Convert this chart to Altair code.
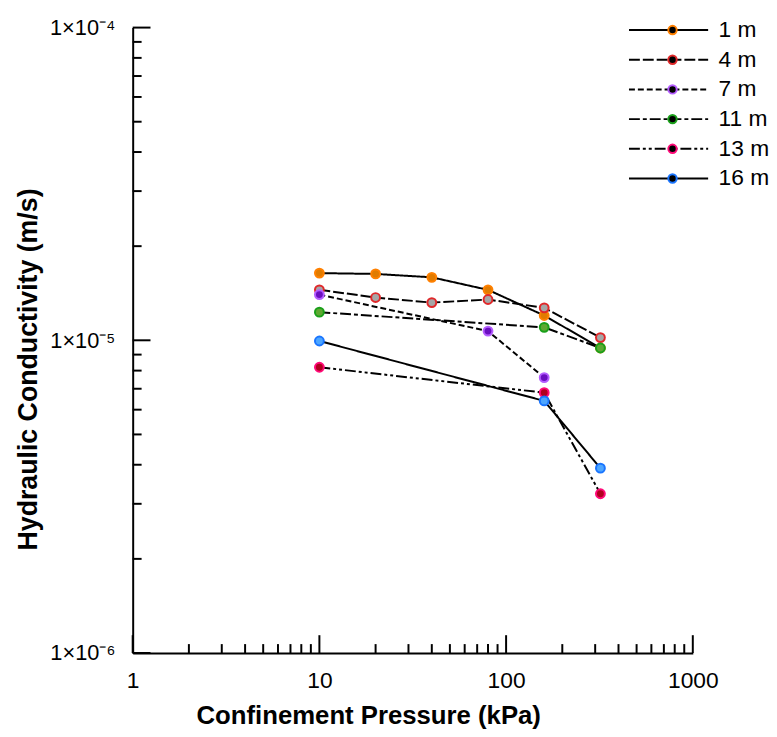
import altair as alt
import pandas as pd

# ---- data ----
series_names = ["1 m", "4 m", "7 m", "11 m", "13 m", "16 m"]

p_1m = [10, 20, 40, 80, 160, 320]
k_1m = [1.64e-5, 1.63e-5, 1.59e-5, 1.45e-5, 1.20e-5, 9.45e-6]

p_4m = [10, 20, 40, 80, 160, 320]
k_4m = [1.45e-5, 1.37e-5, 1.32e-5, 1.35e-5, 1.27e-5, 1.02e-5]

p_7m = [10, 80, 160]
k_7m = [1.40e-5, 1.07e-5, 7.6e-6]

p_11m = [10, 160, 320]
k_11m = [1.23e-5, 1.10e-5, 9.45e-6]

p_13m = [10, 160, 320]
k_13m = [8.2e-6, 6.8e-6, 3.23e-6]

p_16m = [10, 160, 320]
k_16m = [9.95e-6, 6.4e-6, 3.9e-6]

x_major = [1, 10, 100, 1000]
y_major = [1e-6, 1e-5, 1e-4]
x_minor = [m * d for d in (1, 10, 100) for m in range(2, 10)]
y_minor = [m * d for d in (1e-6, 1e-5) for m in range(2, 10)]

# ---- styles ----
dash_range = [[1, 0], [11, 3], [6, 3], [11, 3, 4, 3], [11, 3, 3, 3, 3, 3], [1, 0]]
stroke_cols = ["#ff8000", "#e0282a", "#b45cff", "#1aa01a", "#ff0a78", "#1a75ff"]
fill_cols = ["#e07b00", "#a6a6a6", "#6b0fc0", "#5fa832", "#b0001e", "#4da6ff"]

rows = []
for name, ps, ks in zip(series_names,
                        [p_1m, p_4m, p_7m, p_11m, p_13m, p_16m],
                        [k_1m, k_4m, k_7m, k_11m, k_13m, k_16m]):
    for p, k in zip(ps, ks):
        rows.append({"series": name, "series_pt": name, "p": p, "k": k})
df = pd.DataFrame(rows)

W, H = 566, 632
FONT = "Liberation Sans"
MINOR, MAJOR = 9, 18

xscale = alt.Scale(type="log", domain=[1, 1000], nice=False)
yscale = alt.Scale(type="log", domain=[1e-6, 1e-4], nice=False)

y_label_expr = ("datum.value < 5e-6 ? '1×10⁻⁶' : "
                "(datum.value < 5e-5 ? '1×10⁻⁵' : '1×10⁻⁴')")

base = alt.Chart(df)

lines = base.mark_line(color="black", strokeWidth=2).encode(
    x=alt.X("p:Q", scale=xscale, axis=alt.Axis(
        orient="bottom", values=x_major, format="d", ticks=False, grid=False,
        domain=True, domainColor="black", domainWidth=2, labelFlush=False,
        labelFont=FONT, labelFontSize=23, labelColor="black", labelPadding=17,
        title="Confinement Pressure (kPa)", titleFont=FONT, titleFontSize=26,
        titleFontWeight="bold", titleColor="black", titleX=238, titleY=71,
        titleAlign="center", titleBaseline="alphabetic")),
    y=alt.Y("k:Q", scale=yscale, axis=alt.Axis(
        orient="left", values=y_major, labelExpr=y_label_expr, ticks=False,
        grid=False, domain=True, domainColor="black", domainWidth=2,
        labelFont=FONT, labelFontSize=22, labelColor="black", labelPadding=18,
        title="Hydraulic Conductivity (m/s)", titleFont=FONT, titleFontSize=27,
        titleFontWeight="bold", titleColor="black", titleX=-97, titleY=345,
        titleAlign="center", titleBaseline="alphabetic")),
    strokeDash=alt.StrokeDash("series:N", scale=alt.Scale(domain=series_names, range=dash_range),
        legend=alt.Legend(orient="none", legendX=500, legendY=-9, title=None,
                          symbolType="M-1,0H7", symbolSize=400, symbolStrokeWidth=2,
                          symbolStrokeColor="black", labelFont=FONT, labelFontSize=23,
                          labelColor="black", labelOffset=69, rowPadding=6, padding=0)),
    order=alt.Order("p:Q"),
)

pt_legend = alt.Legend(orient="none", legendX=534, legendY=-9, title=None,
                       symbolType="circle", symbolSize=72, symbolStrokeWidth=2,
                       labelFont=FONT, labelFontSize=23, labelOpacity=0,
                       rowPadding=6, padding=0)

points = base.mark_point(filled=True, size=80, strokeWidth=2, opacity=1, shape="circle").encode(
    x=alt.X("p:Q", scale=xscale, axis=None),
    y=alt.Y("k:Q", scale=yscale, axis=None),
    stroke=alt.Stroke("series_pt:N", sort=series_names,
                      scale=alt.Scale(range=stroke_cols), legend=pt_legend),
    fill=alt.Fill("series_pt:N", sort=series_names,
                  scale=alt.Scale(range=fill_cols), legend=pt_legend),
)

def x_ticks(vals, size):
    return alt.Chart(pd.DataFrame({"v": vals})).mark_rule(color="black", strokeWidth=2).encode(
        x=alt.X("v:Q", scale=xscale, axis=None),
        y=alt.value(H), y2=alt.value(H - size),
    )

def y_ticks(vals, size):
    return alt.Chart(pd.DataFrame({"v": vals})).mark_rule(color="black", strokeWidth=2).encode(
        y=alt.Y("v:Q", scale=yscale, axis=None),
        x=alt.value(0), x2=alt.value(size),
    )

chart = alt.layer(
    lines, points,
    x_ticks(x_minor, MINOR), x_ticks(x_major, MAJOR),
    y_ticks(y_minor, MINOR), y_ticks(y_major, MAJOR),
).resolve_axis(
    x="independent", y="independent"
).properties(
    width=W, height=H,
    autosize=alt.AutoSizeParams(type="none"),
    padding={"left": 126, "top": 16, "right": 77, "bottom": 73},
    background="white",
).configure_view(stroke=None)

chart.save("out.html", embed_options={"renderer": "svg", "actions": False})
